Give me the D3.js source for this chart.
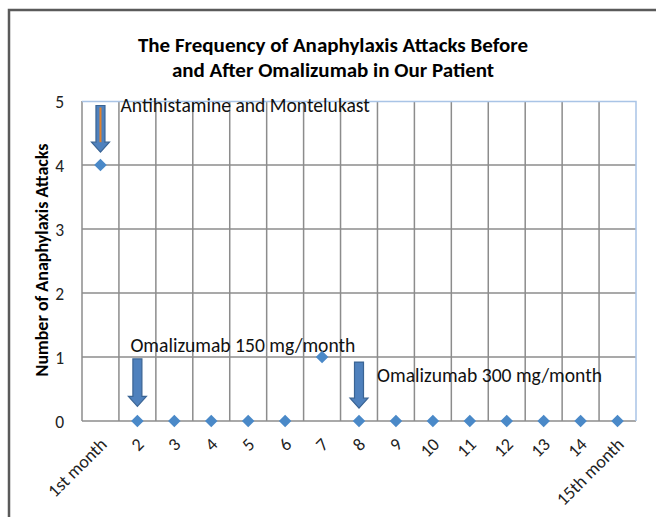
<!DOCTYPE html>
<html>
<head>
<meta charset="utf-8">
<script src="https://d3js.org/d3.v7.min.js"></script>
<style>
    body { margin: 0; background: #fff; }
    svg { font-family: Carlito, Lato, "Open Sans", sans-serif; }
    .grid line { stroke: #8c8c8c; stroke-width: 1.5px; }
    .title { font-weight: bold; font-size: 21px; fill: #000; }
    .ylabel { font-weight: bold; font-size: 18px; }
    .note { font-size: 19.6px; fill: #111; }
</style>
</head>
<body>
<div id="chart"></div>
<script>
// data
var months = ["1st month", "2", "3", "4", "5", "6", "7", "8", "9", "10", "11", "12", "13", "14", "15th month"];
var attacks = [4, 0, 0, 0, 0, 0, 1, 0, 0, 0, 0, 0, 0, 0, 0];
var yTicks = [0, 1, 2, 3, 4, 5];
var titleLines = ["The Frequency of Anaphylaxis Attacks Before", "and After Omalizumab in Our Patient"];
var yTitle = "Number of Anaphylaxis Attacks";

// annotations: text anchored to a month, arrows pointing down at a month (in data units)
var noteText = ["Antihistamine and Montelukast", "Omalizumab 150 mg/month", "Omalizumab 300 mg/month"];
var noteMonth = ["1st month", "2", "8"];
var noteValue = [4.83, 1.08, 0.61];
var arrowMonth = ["1st month", "2", "8"];
var arrowTop = [4.93, 0.97, 0.92];
var arrowBottom = [4.2, 0.23, 0.2];

var W = 656, H = 517;
var margin = { top: 101, right: 20, bottom: 96, left: 82 };
var width = 636 - margin.left, height = 421 - margin.top;

var svg = d3.select("#chart").append("svg")
    .attr("width", W)
    .attr("height", H);

// outer frame (only top and left edges show)
svg.append("path")
    .attr("d", "M9,517 L9,10 L656,10")
    .attr("fill", "none")
    .attr("stroke", "#5a5a5a")
    .attr("stroke-width", 2.5);

svg.selectAll(".title")
    .data(titleLines)
    .enter()
    .append("text")
    .attr("class", "title")
    .attr("x", 333)
    .attr("y", function (d, i) { return 52 + i * 25 })
    .attr("text-anchor", "middle")
    .text(function (d) { return d });

var g = svg.append("g")
    .attr("transform", "translate(" + margin.left + "," + margin.top + ")");

var x = d3.scaleBand().domain(months).range([0, width]).padding(0);
var y = d3.scaleLinear().domain([0, 5]).range([height, 0]);

// grid
var grid = g.append("g").attr("class", "grid");
grid.selectAll(".h")
    .data(yTicks.slice(0, -1))
    .enter()
    .append("line")
    .attr("x1", 0).attr("x2", width)
    .attr("y1", function (d) { return y(d) })
    .attr("y2", function (d) { return y(d) });
grid.selectAll(".v")
    .data(months)
    .enter()
    .append("line")
    .attr("x1", function (d) { return x(d) })
    .attr("x2", function (d) { return x(d) })
    .attr("y1", 0).attr("y2", height);

// plot area border top/right in light blue
g.append("path")
    .attr("d", "M0,0.5 H" + width + " V" + height)
    .attr("fill", "none")
    .attr("stroke", "#a9c4e6")
    .attr("stroke-width", 1.5);

// y axis
var yAxis = g.append("g")
    .call(d3.axisLeft(y).tickValues(yTicks).tickFormat(d3.format("d")).tickSize(0).tickPadding(18));
yAxis.select(".domain").remove();
yAxis.selectAll("text")
    .attr("font-family", "Carlito, Lato, sans-serif")
    .attr("font-size", 17.5)
    .attr("fill", "#222")
    .attr("dy", "0.36em");

// x axis
var xAxis = g.append("g")
    .attr("transform", "translate(0," + height + ")")
    .call(d3.axisBottom(x).tickSize(0).tickPadding(0));
xAxis.select(".domain").remove();
xAxis.selectAll("text")
    .attr("font-family", "Carlito, Lato, sans-serif")
    .attr("font-size", 18)
    .attr("fill", "#222")
    .attr("text-anchor", "end")
    .attr("y", 0)
    .attr("dy", "0.35em")
    .attr("transform", "translate(3,20) rotate(-45)");

// y title
svg.append("text")
    .attr("class", "ylabel")
    .attr("transform", "translate(48," + (margin.top + 159) + ") rotate(-90)")
    .attr("text-anchor", "middle")
    .text(yTitle);

// arrows
var arrows = g.selectAll(".arrow")
    .data(arrowMonth)
    .enter()
    .append("g")
    .attr("class", "arrow");
arrows.append("path")
    .attr("d", function (d, i) {
        var cx = x(d) + x.bandwidth() / 2;
        var t = y(arrowTop[i]), b = y(arrowBottom[i]);
        var hh = 10, sw = 4.5, hw = 9;
        return "M" + (cx - sw) + "," + t + " H" + (cx + sw) + " V" + (b - hh) +
            " H" + (cx + hw) + " L" + cx + "," + b + " L" + (cx - hw) + "," + (b - hh) +
            " H" + (cx - sw) + " Z";
    })
    .attr("fill", "#4f81bd")
    .attr("stroke", "#3a6494")
    .attr("stroke-width", 1.2);
// orange line inside the first arrow
arrows.filter(function (d, i) { return i === 0 })
    .append("line")
    .attr("x1", function (d) { return x(d) + x.bandwidth() / 2 })
    .attr("x2", function (d) { return x(d) + x.bandwidth() / 2 })
    .attr("y1", function () { return y(arrowTop[0]) + 2 })
    .attr("y2", function () { return y(arrowBottom[0]) - 10 })
    .attr("stroke", "#e0822e")
    .attr("stroke-width", 2);

// notes
g.selectAll(".note")
    .data(noteText)
    .enter()
    .append("text")
    .attr("class", "note")
    .attr("x", function (d, i) { return x(noteMonth[i]) + x.bandwidth() / 2 + (i === 0 ? 20 : i === 1 ? -7 : 18) })
    .attr("y", function (d, i) { return y(noteValue[i]) })
    .text(function (d) { return d });

// markers
g.selectAll(".pt")
    .data(attacks)
    .enter()
    .append("path")
    .attr("class", "pt")
    .attr("transform", function (d, i) { return "translate(" + (x(months[i]) + x.bandwidth() / 2) + "," + y(d) + ")" })
    .attr("d", d3.symbol().type(d3.symbolDiamond2).size(100))
    .attr("fill", "#4a89c8");
</script>
</body>
</html>
